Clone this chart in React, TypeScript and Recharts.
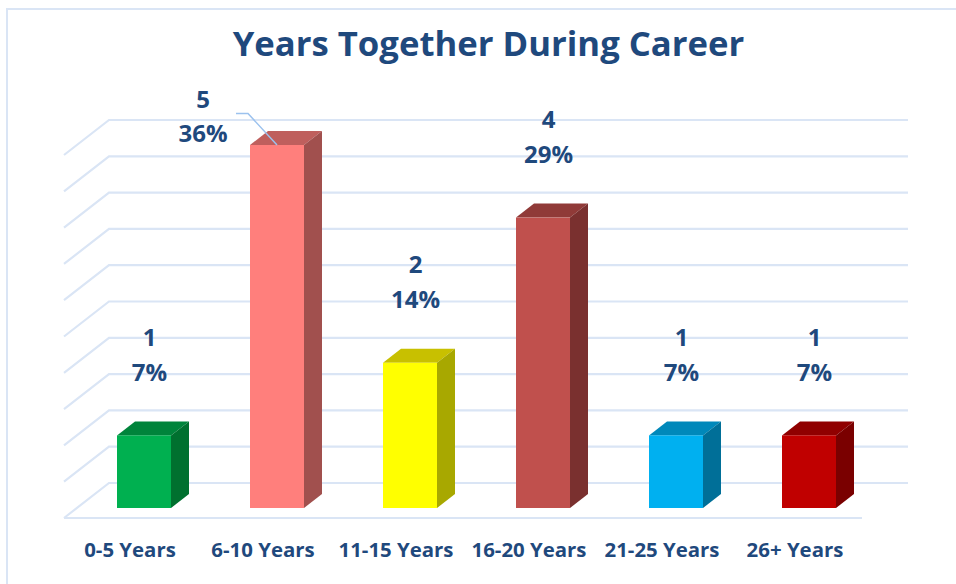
import React from "react";
import { BarChart, Bar, XAxis, YAxis, CartesianGrid, LabelList } from "recharts";

const categories = ["0-5 Years", "6-10 Years", "11-15 Years", "16-20 Years", "21-25 Years", "26+ Years"];
const counts = [1, 5, 2, 4, 1, 1];
const percents = ["7%", "36%", "14%", "29%", "7%", "7%"];
const gridTicks = [0, 0.5, 1, 1.5, 2, 2.5, 3, 3.5, 4, 4.5, 5];
const frontColors = ["#00B050", "#FF7F7C", "#FFFF00", "#C0504D", "#00B0F0", "#C00000"];
const sideColors = ["#00702F", "#A1504E", "#A8A800", "#7A302F", "#006F98", "#7A0000"];
const topColors = ["#00843B", "#BF5F5D", "#C8C000", "#903A38", "#0088BA", "#900000"];

const data = categories.map((name, i) => ({ name, count: counts[i], percent: percents[i] }));

const INK = "#1F497D";
const GRID = "#DAE5F5";
const FONT = "'Open Sans', sans-serif";
const DX = 18;
const DY = 14;

function Bar3D(props: any) {
  const { x, y, width, height, index } = props;
  const left = Math.floor(x);
  const w = Math.round(width);
  return (
    <g>
      <polygon points={`${left},${y} ${left + DX},${y - DY} ${left + w + DX},${y - DY} ${left + w},${y}`} fill={topColors[index]} />
      <polygon points={`${left + w},${y} ${left + w + DX},${y - DY} ${left + w + DX},${y + height - DY} ${left + w},${y + height}`} fill={sideColors[index]} />
      <rect x={left} y={y} width={w} height={height} fill={frontColors[index]} />
    </g>
  );
}

function GridLine(props: any) {
  const { y1, index } = props;
  const backY = y1 - 25;
  const frontY = y1 + 10;
  const isFloor = Math.abs(y1 - 508) < 1;
  return (
    <g key={`g${index}-${y1}`} fill="none" stroke={GRID} strokeWidth={2.2}>
      <polyline points={`64,${frontY} 109,${backY} 908,${backY}`} />
      {isFloor ? <line x1={64} y1={frontY} x2={862} y2={frontY} /> : null}
    </g>
  );
}

function DataLabel(props: any) {
  const { x, y, width, index } = props;
  const moved = index === 1;
  const cx = moved ? x + width / 2 - 74 : x + width / 2 + 5.5;
  const y1 = moved ? y - 47 : y - 99;
  const y2 = moved ? y - 13 : y - 64;
  const common = { x: cx, textAnchor: "middle" as const, dominantBaseline: "central" as const, fill: INK, fontFamily: FONT, fontWeight: 700, fontSize: 24 };
  return (
    <g>
      {moved ? (
        <polyline points={`${x + width / 2 - 41},${y - 31.5} ${x + width / 2 - 29},${y - 31.5} ${x + width / 2},${y}`} fill="none" stroke="#9CC2EE" strokeWidth={1.5} />
      ) : null}
      <text {...common} y={y1}>{counts[index]}</text>
      <text {...common} y={y2}>{percents[index]}</text>
    </g>
  );
}

function CategoryTick(props: any) {
  const { x, payload } = props;
  return (
    <text x={x - 13.5} y={549} textAnchor="middle" dominantBaseline="central" fill={INK} fontFamily={FONT} fontWeight={700} fontSize={20.4}>
      {payload.value}
    </text>
  );
}

export default function App() {
  return (
    <div style={{ position: "absolute", left: 0, top: 0, width: 956, height: 584, background: "#fff", overflow: "hidden" }}>
      <div style={{ position: "absolute", left: 6, top: 8, width: 960, height: 574, border: `2px solid ${GRID}`, boxSizing: "content-box" }} />
      <div style={{ position: "absolute", left: 0, top: 16, width: 977, textAlign: "center", color: INK, fontFamily: FONT, fontWeight: 700, fontSize: 34.7, lineHeight: "54px" }}>
        Years Together During Career
      </div>
      <div style={{ position: "absolute", left: 0, top: 0 }}>
        <BarChart width={956} height={584} data={data} margin={{ top: 145, right: 81, bottom: 0, left: 77 }} barCategoryGap={79.5}>
          <CartesianGrid vertical={false} horizontal={GridLine as any} />
          <XAxis dataKey="name" axisLine={false} tickLine={false} tick={CategoryTick as any} interval={0} height={76} />
          <YAxis hide domain={[0, 5]} ticks={gridTicks} width={0} />
          <Bar dataKey="count" barSize={54} shape={Bar3D as any} isAnimationActive={false}>
            <LabelList dataKey="count" content={DataLabel as any} />
          </Bar>
        </BarChart>
      </div>
    </div>
  );
}
